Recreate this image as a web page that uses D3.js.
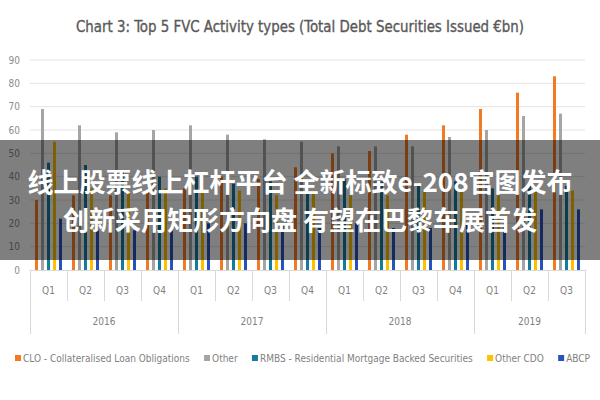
<!DOCTYPE html>
<html>
<head>
<meta charset="utf-8">
<script src="https://cdn.jsdelivr.net/npm/d3@7"></script>
<style>
  body { margin: 0; background: #fff; }
  svg { display: block; }
  text { font-family: "Liberation Sans Narrow", "DejaVu Sans Condensed", "Roboto", sans-serif; }
</style>
</head>
<body>
<svg id="main"></svg>
<script>
const width = 600
const height = 400

const quarters = ['Q1','Q2','Q3','Q4','Q1','Q2','Q3','Q4','Q1','Q2','Q3','Q4','Q1','Q2','Q3']
const years = ['2016', '2017', '2018', '2019']
const quartersPerYear = [4, 4, 4, 3]

const series = ['CLO - Collateralised Loan Obligations', 'Other', 'RMBS - Residential Mortgage Backed Securities', 'Other CDO', 'ABCP']
const colors = ['#F27A22', '#A5A5A5', '#147C9C', '#FFC000', '#2853BC']

const clo      = [30, 32, 32, 34, 35, 40, 39, 44, 50, 51, 58, 62, 69, 76, 83]
const other    = [69, 62, 59, 60, 62, 58, 56, 55, 53, 53, 53, 57, 60, 66, 67]
const rmbs     = [46, 45, 42, 40, 40, 37, 38, 34, 39, 38, 36, 38, 35, 37, 36]
const otherCdo = [55, 35, 33, 35, 34, 34, 32, 33, 32, 32, 34, 34, 32, 34, 34]
const abcp     = [22, 17, 17, 17, 20, 20, 20, 18, 20, 18, 18, 20, 20, 26, 26]

const yTicks = [0, 10, 20, 30, 40, 50, 60, 70, 80, 90]

const title = 'Chart 3: Top 5 FVC Activity types (Total Debt Securities Issued €bn)'
const bannerLines = ['线上股票线上杠杆平台 全新标致e-208官图发布', '创新采用矩形方向盘 有望在巴黎车展首发']

const values = [clo, other, rmbs, otherCdo, abcp]
const keys = quarters.map((q, i) => i)

const svg = d3.select('#main').attr('width', width).attr('height', height)

const plot = {left: 30, right: 585, top: 60, bottom: 270}

const x0 = d3.scaleBand().domain(keys).range([plot.left, plot.right]).paddingInner(0.27).paddingOuter(0.135)
const x1 = d3.scaleBand().domain(d3.range(series.length)).range([0, x0.bandwidth()]).paddingInner(0.5)
const y = d3.scaleLinear().domain([0, 90]).range([plot.bottom, plot.top])
const step = x0.step()
const edge = i => plot.left + i * step

// title (squeezed to the width of the original's narrow face)
svg.append('text')
  .attr('x', width / 2).attr('y', 32)
  .attr('text-anchor', 'middle')
  .attr('font-size', 16)
  .attr('textLength', 448).attr('lengthAdjust', 'spacingAndGlyphs')
  .attr('fill', '#595959')
  .attr('stroke', '#595959').attr('stroke-width', 0.35)
  .text(title)

// grid + y labels
svg.append('g').selectAll('line').data(yTicks.filter(d => d > 0)).join('line')
  .attr('x1', plot.left).attr('x2', plot.right)
  .attr('y1', d => y(d)).attr('y2', d => y(d))
  .attr('stroke', '#e3e3e3').attr('stroke-width', 1)

svg.append('g').selectAll('text').data(yTicks).join('text')
  .attr('x', 20).attr('y', d => y(d) + 3.5)
  .attr('text-anchor', 'end')
  .attr('font-size', 10).attr('fill', '#8c8c8c')
  .text(d => d)

// bars
const groups = svg.append('g').selectAll('g').data(keys).join('g')
  .attr('transform', d => `translate(${x0(d)},0)`)

groups.selectAll('rect').data(i => values.map((v, s) => ({s, v: v[i]}))).join('rect')
  .attr('x', d => x1(d.s))
  .attr('width', x1.bandwidth())
  .attr('y', d => y(d.v))
  .attr('height', d => y(0) - y(d.v))
  .attr('fill', d => colors[d.s])

// category axis
const axis = svg.append('g').attr('stroke', '#d9d9d9').attr('stroke-width', 1)
axis.append('line').attr('x1', plot.left).attr('x2', plot.right).attr('y1', plot.bottom + 0.5).attr('y2', plot.bottom + 0.5)

const yearEdges = [0]
quartersPerYear.forEach(n => yearEdges.push(yearEdges[yearEdges.length - 1] + n))

axis.selectAll('.qtick').data(d3.range(quarters.length + 1).filter(i => !yearEdges.includes(i))).join('line')
  .attr('x1', i => edge(i) + 0.5).attr('x2', i => edge(i) + 0.5)
  .attr('y1', plot.bottom).attr('y2', plot.bottom + 31)

axis.selectAll('.ytick').data(yearEdges).join('line')
  .attr('x1', i => edge(i) + 0.5).attr('x2', i => edge(i) + 0.5)
  .attr('y1', plot.bottom).attr('y2', plot.bottom + 64)

svg.append('g').selectAll('text').data(keys).join('text')
  .attr('x', d => x0(d) + x0.bandwidth() / 2).attr('y', plot.bottom + 24)
  .attr('text-anchor', 'middle')
  .attr('font-size', 10).attr('fill', '#7f7f7f')
  .text(d => quarters[d])

svg.append('g').selectAll('text').data(years).join('text')
  .attr('x', (d, i) => (edge(yearEdges[i]) + edge(yearEdges[i + 1])) / 2).attr('y', plot.bottom + 55)
  .attr('text-anchor', 'middle')
  .attr('font-size', 10).attr('fill', '#7f7f7f')
  .text(d => d)

// legend: measure labels first, then spread the items over 15..590
const legend = svg.append('g').attr('transform', 'translate(15, 358)')
const items = series.map((name, s) => {
  const g = legend.append('g')
  g.append('rect').attr('y', -3).attr('width', 6).attr('height', 6).attr('fill', colors[s])
  const t = g.append('text').attr('x', 8).attr('y', 3.5)
    .attr('font-size', 10).attr('fill', '#7f7f7f').text(name)
  return {g, w: 8 + t.node().getComputedTextLength()}
})
const gap = (575 - d3.sum(items, d => d.w)) / (items.length - 1)
let lx = 0
items.forEach(d => {
  d.g.attr('transform', `translate(${lx},0)`)
  lx += d.w + gap
})

// overlay banner
svg.append('rect').attr('x', 0).attr('y', 140).attr('width', width).attr('height', 120)
  .attr('fill', '#000').attr('fill-opacity', 0.5)

svg.append('g').selectAll('text').data(bannerLines).join('text')
  .attr('x', width / 2).attr('y', (d, i) => 192 + i * 38)
  .attr('text-anchor', 'middle')
  .style('font-family', '"Noto Sans CJK SC", sans-serif')
  .attr('font-size', 26).attr('font-weight', 'bold')
  .attr('fill', '#fff')
  .text(d => d)
</script>
</body>
</html>
